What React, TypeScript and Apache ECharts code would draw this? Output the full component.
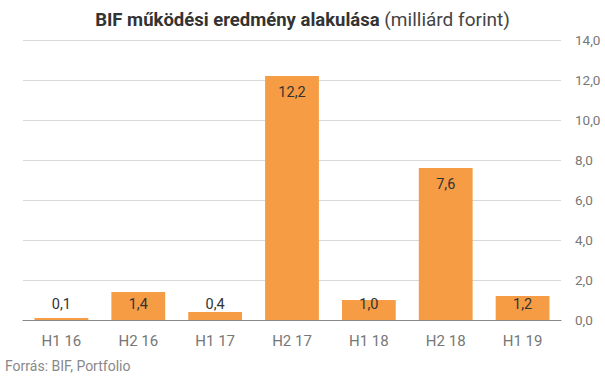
import React, { useEffect, useRef } from "react";
import * as echarts from "echarts";

const categories = ["H1 16", "H2 16", "H1 17", "H2 17", "H1 18", "H2 18", "H1 19"];
const values = [0.1, 1.4, 0.4, 12.2, 1.0, 7.6, 1.2];
const titleBold = "BIF működési eredmény alakulása";
const titleNormal = " (milliárd forint)";
const source = "Forrás: BIF, Portfolio";

const fmt = (v: number) => v.toFixed(1).replace(".", ",");

export default function App() {
  const ref = useRef<HTMLDivElement>(null);
  useEffect(() => {
    document.body.style.margin = "0";
    if (!ref.current) return;
    const chart = echarts.init(ref.current, null, { renderer: "svg" });
    chart.setOption({
      animation: false,
      textStyle: { fontFamily: "Roboto" },
      title: {
        text: `{b|${titleBold}}{n|${titleNormal}}`,
        left: "center",
        top: 5,
        textStyle: {
          rich: {
            b: { fontFamily: "Roboto", fontWeight: "bold", fontSize: 18.5, color: "#333" },
            n: { fontFamily: "Roboto", fontWeight: "normal", fontSize: 19, color: "#444" },
          },
        },
      },
      graphic: [
        {
          type: "text",
          left: 5,
          top: 359,
          style: { text: source, fill: "#888", fontSize: 14, fontFamily: "Roboto" },
        },
      ],
      grid: { left: 23, right: 44, top: 40, bottom: 58 },
      xAxis: {
        type: "category",
        data: categories,
        axisTick: { show: false },
        axisLine: { lineStyle: { color: "#888" } },
        axisLabel: { color: "#777", fontSize: 15, margin: 13 },
      },
      yAxis: {
        type: "value",
        position: "right",
        min: 0,
        max: 14,
        interval: 2,
        axisLabel: { color: "#777", fontSize: 13.5, margin: 14, formatter: (v: number) => fmt(v) },
        splitLine: { lineStyle: { color: "#d9d9d9" } },
        axisLine: { show: false },
        axisTick: { show: false },
      },
      series: [
        {
          type: "bar",
          barWidth: "70%",
          itemStyle: { color: "#F59C45" },
          data: values.map((v) => ({
            value: v,
            label: v >= 2
              ? { position: "insideTop", distance: 9 }
              : { position: "insideBottom", distance: 8 },
          })),
          label: {
            show: true,
            color: "#333",
            fontSize: 14.5,
            formatter: (p: any) => fmt(p.value),
          },
        },
      ],
    });
    return () => chart.dispose();
  }, []);
  return <div ref={ref} style={{ width: 605, height: 378 }} />;
}
